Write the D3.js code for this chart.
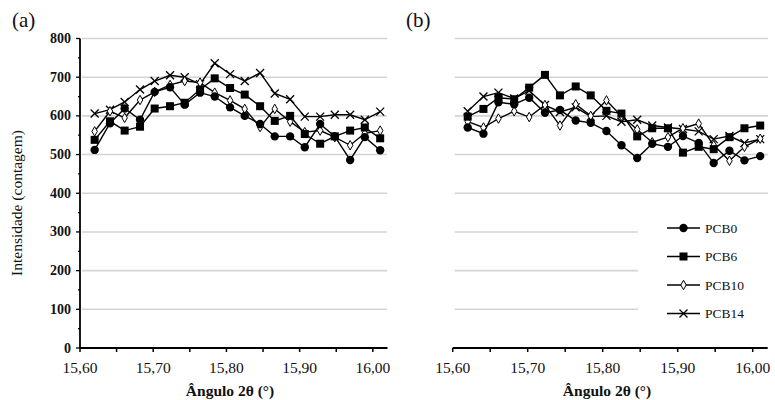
<!DOCTYPE html>
<html>
<head>
<meta charset="utf-8">
<script src="https://cdn.jsdelivr.net/npm/d3@7"></script>
<style>
  body { margin: 0; background: #fff; }
  text { font-family: "Liberation Serif", "Times New Roman", serif; fill: #111; }
</style>
</head>
<body>
<div id="chart"></div>
<script>
// XRD peak detail, two panels sharing the same y range

var xVals = [15.620, 15.641, 15.661, 15.682, 15.702, 15.723, 15.743, 15.764, 15.784, 15.805,
             15.825, 15.846, 15.866, 15.887, 15.907, 15.928, 15.948, 15.969, 15.989, 16.010];

// panel (a)
var a_PCB0  = [512, 581, 619, 590, 662, 674, 629, 660, 650, 622, 600, 579, 547, 547, 519, 579, 547, 486, 545, 511];
var a_PCB6  = [538, 586, 562, 572, 619, 625, 634, 668, 697, 672, 655, 625, 587, 600, 553, 528, 547, 562, 570, 542];
var a_PCB10 = [560, 612, 595, 641, 662, 680, 690, 686, 660, 640, 618, 571, 618, 585, 558, 562, 545, 524, 555, 562];
var a_PCB14 = [606, 616, 636, 668, 690, 705, 700, 682, 736, 708, 690, 711, 658, 643, 598, 598, 603, 603, 590, 611];

// panel (b)
var b_PCB0  = [570, 554, 635, 630, 647, 608, 615, 588, 582, 561, 524, 491, 528, 520, 548, 530, 478, 510, 485, 496];
var b_PCB6  = [598, 618, 647, 643, 673, 706, 653, 676, 653, 613, 606, 547, 568, 568, 505, 520, 514, 545, 568, 575];
var b_PCB10 = [585, 570, 593, 612, 597, 628, 575, 630, 600, 640, 600, 565, 532, 545, 568, 580, 524, 484, 520, 541];
var b_PCB14 = [612, 650, 660, 645, 665, 628, 610, 622, 598, 600, 585, 590, 575, 570, 566, 560, 540, 548, 530, 540];

var seriesNames = ['PCB0', 'PCB6', 'PCB10', 'PCB14'];
var yTicks = [0, 100, 200, 300, 400, 500, 600, 700, 800];
var xTickLabels = [15.60, 15.70, 15.80, 15.90, 16.00];
var xMinorTicks = [15.60, 15.65, 15.70, 15.75, 15.80, 15.85, 15.90, 15.95, 16.00];

var svg = d3.select("#chart").append("svg")
    .attr("width", 775)
    .attr("height", 400);

var y = d3.scaleLinear().domain([0, 800]).range([348, 38.5]);
var fmt = function(v){ return v.toFixed(2).replace('.', ','); };

function marker(g, kind, px, py){
    if (kind == 'PCB0') {
        g.append("circle").attr("cx", px).attr("cy", py).attr("r", 4.2).attr("fill", "#000");
    } else if (kind == 'PCB6') {
        g.append("rect").attr("x", px - 4).attr("y", py - 4).attr("width", 8).attr("height", 8).attr("fill", "#000");
    } else if (kind == 'PCB10') {
        g.append("path")
            .attr("d", d3.symbol().type(d3.symbolDiamond).size(26)())
            .attr("transform", "translate(" + px + "," + py + ")")
            .attr("fill", "#fff").attr("stroke", "#000").attr("stroke-width", 1);
    } else {
        var s = 4;
        g.append("path")
            .attr("d", "M" + (px - s) + "," + (py - s) + "L" + (px + s) + "," + (py + s) +
                       "M" + (px - s) + "," + (py + s) + "L" + (px + s) + "," + (py - s))
            .attr("stroke", "#000").attr("stroke-width", 1.3).attr("fill", "none");
    }
}

function drawPanel(x, data, showY, gridRight){
    var g = svg.append("g");

    // gridlines
    g.selectAll(".grid")
        .data(yTicks.filter(function(d){ return d > 0; }))
        .enter().append("line")
        .attr("x1", x.range()[0] + 2)
        .attr("x2", function(d){ return gridRight(d); })
        .attr("y1", function(d){ return y(d); })
        .attr("y2", function(d){ return y(d); })
        .attr("stroke", "#d4d4d4")
        .attr("stroke-width", 1.6);

    // x axis
    g.append("line")
        .attr("x1", x.range()[0]).attr("x2", x.range()[1])
        .attr("y1", y(0)).attr("y2", y(0))
        .attr("stroke", "#000").attr("stroke-width", 1.8);
    g.selectAll(".xt")
        .data(xMinorTicks)
        .enter().append("line")
        .attr("x1", function(d){ return x(d); })
        .attr("x2", function(d){ return x(d); })
        .attr("y1", y(0)).attr("y2", y(0) + 4)
        .attr("stroke", "#000").attr("stroke-width", 1.5);
    g.selectAll(".xl")
        .data(xTickLabels)
        .enter().append("text")
        .attr("x", function(d){ return x(d); })
        .attr("y", 373)
        .attr("text-anchor", "middle")
        .attr("font-size", "15.5px")
        .text(fmt);

    if (showY) {
        g.append("line")
            .attr("x1", x.range()[0]).attr("x2", x.range()[0])
            .attr("y1", y(800)).attr("y2", y(0))
            .attr("stroke", "#000").attr("stroke-width", 1.8);
        g.selectAll(".yt")
            .data(d3.range(0, 801, 50))
            .enter().append("line")
            .attr("x1", function(d){ return x.range()[0] - (d % 100 == 0 ? 4 : 2); })
            .attr("x2", x.range()[0])
            .attr("y1", function(d){ return y(d); })
            .attr("y2", function(d){ return y(d); })
            .attr("stroke", "#000").attr("stroke-width", 1.3);
        g.selectAll(".yl")
            .data(yTicks)
            .enter().append("text")
            .attr("x", x.range()[0] - 9)
            .attr("y", function(d){ return y(d) + 4.5; })
            .attr("text-anchor", "end")
            .attr("font-size", "14px")
            .attr("font-weight", "bold")
            .attr("fill", "#333")
            .text(function(d){ return d; });
    }

    // series, drawn back to front
    var line = d3.line()
        .x(function(d, i){ return x(xVals[i]); })
        .y(function(d){ return y(d); });
    [3, 2, 1, 0].forEach(function(k){
        g.append("path")
            .attr("d", line(data[k]))
            .attr("fill", "none")
            .attr("stroke", "#000")
            .attr("stroke-width", 1.4);
    });
    [3, 2, 1, 0].forEach(function(k){
        data[k].forEach(function(v, i){
            marker(g, seriesNames[k], x(xVals[i]), y(v));
        });
    });
}

// panel (a)
var xa = d3.scaleLinear().domain([15.6, 16.02]).range([80, 387.5]);
drawPanel(xa, [a_PCB0, a_PCB6, a_PCB10, a_PCB14], true, function(){ return 387; });

// panel (b) - legend box hides part of the lower gridlines
var xb = d3.scaleLinear().domain([15.6, 16.02]).range([452.7, 767.7]);
drawPanel(xb, [b_PCB0, b_PCB6, b_PCB10, b_PCB14], false, function(d){ return (d <= 300) ? 638 : 768; });

// legend
var legend = svg.append("g");
seriesNames.forEach(function(name, i){
    var ly = 228 + i * 28.5;
    legend.append("line")
        .attr("x1", 667).attr("x2", 700)
        .attr("y1", ly).attr("y2", ly)
        .attr("stroke", "#000").attr("stroke-width", 1.3);
    marker(legend, name, 683.5, ly);
    legend.append("text")
        .attr("x", 705).attr("y", ly + 4.5)
        .attr("font-size", "13.5px")
        .text(name);
});

// titles
svg.append("text").attr("x", 12).attr("y", 27).attr("font-size", "21px").text("(a)");
svg.append("text").attr("x", 406).attr("y", 27).attr("font-size", "21px").text("(b)");

svg.append("text")
    .attr("transform", "translate(22,203) rotate(-90)")
    .attr("text-anchor", "middle")
    .attr("font-size", "15.5px")
    .attr("fill", "#222")
    .text("Intensidade (contagem)");

svg.append("text")
    .attr("x", 230).attr("y", 396)
    .attr("text-anchor", "middle")
    .attr("font-size", "15.5px")
    .attr("font-weight", "bold")
    .attr("fill", "#333")
    .text("Ângulo 2θ (°)");

svg.append("text")
    .attr("x", 607).attr("y", 396)
    .attr("text-anchor", "middle")
    .attr("font-size", "15.5px")
    .attr("font-weight", "bold")
    .attr("fill", "#333")
    .text("Ângulo 2θ (°)");
</script>
</body>
</html>
